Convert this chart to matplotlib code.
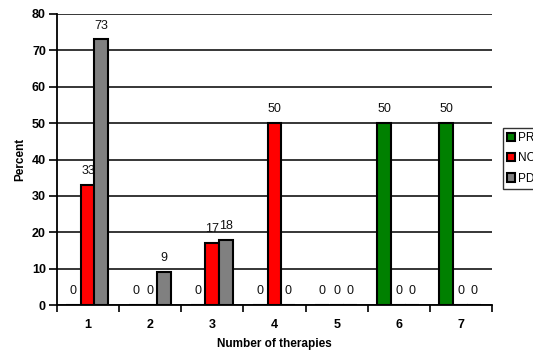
import matplotlib
matplotlib.use("Agg")
import matplotlib.pyplot as plt
import numpy as np

categories = [1, 2, 3, 4, 5, 6, 7]
series_names = ["PR", "NC", "PD"]
pr_values = [0, 0, 0, 0, 0, 50, 50]
nc_values = [33, 0, 17, 50, 0, 0, 0]
pd_values = [73, 9, 18, 0, 0, 0, 0]
yticks = [0, 10, 20, 30, 40, 50, 60, 70, 80]

colors = ["#008000", "#ff0000", "#808080"]

plt.rcParams["font.family"] = ["Liberation Sans", "DejaVu Sans"]

fig = plt.figure(figsize=(5.33, 3.56), dpi=100)
ax = fig.add_axes([57 / 533, 1 - 305 / 356, 435 / 533, 291 / 356])

x = np.arange(len(categories)) + 1
width = 0.225
offsets = [-0.235, 0.0, 0.215]
series = [pr_values, nc_values, pd_values]

for name, vals, off, col in zip(series_names, series, offsets, colors):
    ax.bar(x + off, vals, width, color=col, edgecolor="black", linewidth=1.5,
           label=name, zorder=3)
    for xi, v in zip(x, vals):
        ax.annotate(f"{v}", (xi + off, v), xytext=(0, 10), textcoords="offset points",
                    ha="center", va="center", fontsize=9, color="#111111")

ax.set_xlim(0.5, 7.5)
ax.set_ylim(0, 80)
ax.set_yticks(yticks)
ax.set_yticklabels([str(t) for t in yticks], fontsize=9, fontweight="bold")
ax.set_xticks(x)
ax.set_xticklabels([str(c) for c in categories], fontsize=9, fontweight="bold")
ax.set_xticks(np.arange(0.5, 8.0, 1.0), minor=True)
ax.tick_params(axis="x", which="major", length=0, pad=10)
ax.tick_params(axis="x", which="minor", length=5, width=1.2, direction="out")
ax.tick_params(axis="y", length=6, width=1.2, direction="out", pad=2)

ax.grid(axis="y", color="black", linewidth=1.1, zorder=0)
ax.set_axisbelow(True)
for s in ["top", "right"]:
    ax.spines[s].set_visible(False)
for s in ["left", "bottom"]:
    ax.spines[s].set_linewidth(1.3)

ax.set_ylabel("Percent", fontsize=8.5, fontweight="bold", labelpad=4)
ax.set_xlabel("Number of therapies", fontsize=8.5, fontweight="bold", labelpad=5)

leg = fig.legend(loc="upper left", bbox_to_anchor=(503 / 533, 1 - 128 / 356),
                 bbox_transform=fig.transFigure, fontsize=8.5, frameon=True,
                 fancybox=False, edgecolor="black", handlelength=0.7,
                 handleheight=0.7, handletextpad=0.2, borderpad=0.35,
                 labelspacing=0.7, borderaxespad=0)
leg.get_frame().set_linewidth(1.0)

fig.savefig("out.png", dpi=100)
